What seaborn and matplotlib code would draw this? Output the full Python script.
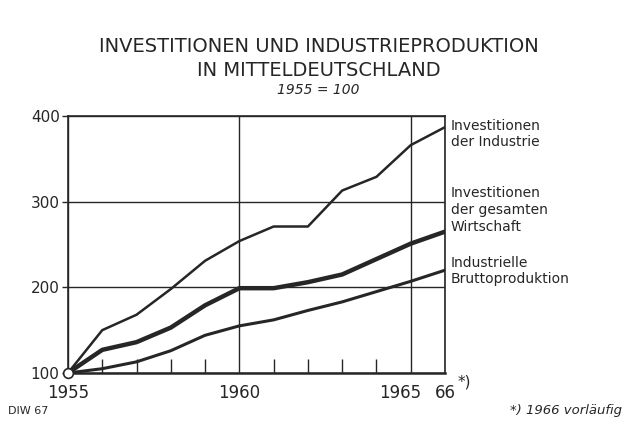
import matplotlib
matplotlib.use("Agg")
import matplotlib.pyplot as plt
import matplotlib.transforms as mtrans
import pandas as pd
import seaborn as sns

# data (1955 = 100)
years = list(range(1955, 1967))
inv_industrie = [100, 150, 168, 198, 231, 254, 271, 271, 313, 329, 366, 387]
inv_gesamt = [100, 127, 136, 153, 179, 199, 199, 206, 215, 233, 251, 265]
brutto = [100, 105, 113, 126, 144, 155, 162, 173, 183, 195, 207, 220]

series_labels = ["Investitionen\nder Industrie",
                 "Investitionen\nder gesamten\nWirtschaft",
                 "Industrielle\nBruttoproduktion"]
label_y = [397, 318, 237]
xtick_pos = [1955, 1960, 1965, 1966]
xtick_lab = ["1955", "1960", "1965", "66"]
ytick_pos = [100, 200, 300, 400]

df = pd.DataFrame({"year": years, "ind": inv_industrie,
                   "ges": inv_gesamt, "bru": brutto})

sns.set_style("white")
plt.rcParams['font.family'] = ['DejaVu Sans']
ink = "#262626"

fig = plt.figure(figsize=(6.33, 4.30), dpi=100)
ax = fig.add_axes([0.1074, 0.1326, 0.5956, 0.5976])

sns.lineplot(data=df, x="year", y="ind", ax=ax, color=ink, lw=1.8)
sns.lineplot(data=df, x="year", y="ges", ax=ax, color=ink, lw=3.2)
sns.lineplot(data=df, x="year", y="bru", ax=ax, color=ink, lw=2.2)
ax.plot([years[0]], [brutto[0]], 'o', ms=7, mfc='white', mec=ink,
        mew=1.2, clip_on=False, zorder=5)

ax.set_xlim(1955, 1966)
ax.set_ylim(100, 400)
ax.set_xlabel("")
ax.set_ylabel("")

ax.set_xticks(xtick_pos)
ax.set_xticklabels(xtick_lab, fontsize=12, color=ink)
ax.set_xticks(years, minor=True)
ax.tick_params(axis='x', which='major', length=0, pad=8)
ax.tick_params(axis='x', which='minor', direction='in', length=10,
               width=1, color=ink, bottom=True)
# the "1965" label sits a little left of its line, "66" a little left too
shifts = {"1965": -0.11, "66": 0.0}
for lab in ax.get_xticklabels():
    dx = shifts.get(lab.get_text(), 0.0)
    if dx:
        lab.set_transform(lab.get_transform() +
                          mtrans.ScaledTranslation(dx, 0, fig.dpi_scale_trans))
ax.set_yticks(ytick_pos)
ax.set_yticklabels([str(v) for v in ytick_pos], fontsize=11, color=ink)
ax.tick_params(axis='y', which='major', direction='out', length=4,
               width=1, color=ink, left=True, pad=2)

ax.grid(True, which='major', color=ink, lw=1.0)
for s in ax.spines.values():
    s.set_color(ink)
    s.set_linewidth(1.2)
ax.spines['bottom'].set_linewidth(1.8)

for lab, y in zip(series_labels, label_y):
    ax.text(1966.17, y, lab, fontsize=10, color=ink, va='top', ha='left',
            linespacing=1.25)

ax.text(1966.38, 89, "*)", fontsize=11, color=ink, va='center',
        clip_on=False)

fig.text(0.503, 0.893, "INVESTITIONEN UND INDUSTRIEPRODUKTION",
         fontsize=14, ha='center', va='center', color=ink)
fig.text(0.503, 0.836, "IN MITTELDEUTSCHLAND",
         fontsize=14, ha='center', va='center', color=ink)
fig.text(0.503, 0.790, "1955 = 100", fontsize=10, style='italic',
         ha='center', va='center', color=ink)
fig.text(0.013, 0.045, "DIW 67", fontsize=8, ha='left', va='center',
         color=ink)
fig.text(0.983, 0.045, "*) 1966 vorläufig", fontsize=9.5, style='italic',
         ha='right', va='center', color=ink)

fig.savefig("out.png", dpi=100)
